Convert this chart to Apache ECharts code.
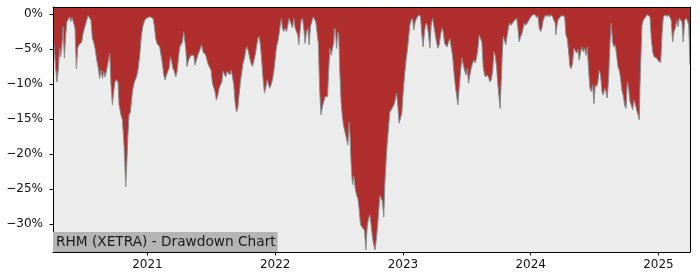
<!DOCTYPE html>
<html>
<head>
<meta charset="utf-8">
<script src="https://cdn.jsdelivr.net/npm/echarts@6/dist/echarts.min.js"></script>
<style>
  html, body { margin: 0; padding: 0; background: #ffffff; }
  #chart { width: 700px; height: 280px; }
</style>
</head>
<body>
<div id="chart"></div>
<script>
// Dates as decimal years (e.g. 2021.5 = mid-2021), drawdown in percent
var dates2020 = [2020.261,2020.266,2020.282,2020.292,2020.303,2020.313,2020.321,2020.331,2020.339,2020.350,
  2020.360,2020.370,2020.381,2020.392,2020.399,2020.410,2020.423,2020.433,2020.444,2020.454,
  2020.464,2020.475,2020.486,2020.496,2020.507,2020.522,2020.535,2020.546,2020.558,2020.569,
  2020.579,2020.590,2020.601,2020.616,2020.626,2020.637,2020.648,2020.658,2020.668,2020.679,
  2020.691,2020.705,2020.715,2020.726,2020.736,2020.746,2020.757,2020.770,2020.778,2020.793,
  2020.804,2020.814,2020.822,2020.830,2020.838,2020.846,2020.856,2020.867,2020.877,2020.887,
  2020.898,2020.914,2020.926,2020.940,2020.953,2020.966,2020.979,2020.992];
var dd2020 = [-4.0,-3.7,-7.8,-9.7,-7.8,-4.9,-6.1,-4.4,-1.8,-6.3,
  -3.0,-1.1,-0.9,-0.4,-1.1,-0.5,-0.5,-2.0,-7.8,-4.9,
  -4.4,-4.4,-4.0,-2.8,-2.0,-1.1,-0.2,-0.2,-0.9,-3.5,
  -4.0,-4.9,-6.3,-7.8,-9.2,-8.0,-9.2,-8.2,-9.0,-8.2,
  -8.2,-5.6,-10.1,-13.0,-11.1,-9.7,-9.4,-9.7,-13.0,-14.4,
  -15.1,-17.8,-20.6,-24.7,-21.6,-17.8,-14.4,-14.0,-12.0,-10.6,
  -9.7,-9.0,-8.0,-5.9,-3.0,-1.6,-0.9,-0.6];

var dates2021 = [2021.005,2021.018,2021.031,2021.044,2021.055,2021.065,2021.075,2021.086,2021.096,2021.107,
  2021.117,2021.128,2021.138,2021.149,2021.159,2021.169,2021.180,2021.190,2021.200,2021.211,
  2021.222,2021.232,2021.243,2021.253,2021.263,2021.274,2021.284,2021.292,2021.300,2021.310,
  2021.321,2021.331,2021.341,2021.352,2021.363,2021.373,2021.384,2021.394,2021.404,2021.415,
  2021.425,2021.435,2021.446,2021.457,2021.467,2021.478,2021.488,2021.498,2021.509,2021.519,
  2021.529,2021.540,2021.551,2021.561,2021.572,2021.582,2021.592,2021.603,2021.613,2021.623,
  2021.634,2021.645,2021.655,2021.666,2021.676,2021.686,2021.697,2021.707,2021.717,2021.728,
  2021.739,2021.749,2021.760,2021.770,2021.780,2021.791,2021.801,2021.811,2021.822,2021.832,
  2021.843,2021.854,2021.864,2021.874,2021.885,2021.895,2021.905,2021.916,2021.926,2021.937,
  2021.948,2021.958,2021.968,2021.979,2021.989,2021.999];
var dd2021 = [-0.4,-0.4,-0.2,-0.6,-1.8,-3.5,-4.2,-4.0,-4.7,-5.9,
  -7.0,-8.7,-9.4,-9.4,-8.2,-7.8,-6.1,-6.8,-7.8,-8.2,
  -9.0,-8.2,-6.3,-4.7,-4.9,-4.0,-2.5,-2.5,-4.9,-7.5,
  -6.6,-6.8,-5.9,-6.1,-5.9,-7.3,-7.3,-5.9,-5.9,-4.9,
  -4.4,-5.4,-5.4,-5.9,-6.6,-7.3,-7.5,-8.0,-9.9,-10.1,
  -11.1,-12.3,-11.6,-10.6,-10.1,-9.7,-8.2,-8.0,-9.0,-8.2,
  -8.2,-8.7,-8.0,-9.0,-10.1,-12.5,-14.0,-13.5,-11.6,-9.7,
  -8.2,-7.0,-6.3,-5.1,-4.7,-5.4,-6.3,-7.0,-7.5,-6.8,
  -5.9,-4.7,-3.5,-3.2,-4.4,-6.8,-9.2,-11.3,-10.6,-9.4,
  -10.1,-10.6,-10.1,-9.4,-8.2,-6.6];

var dates2022 = [2022.010,2022.020,2022.031,2022.042,2022.049,2022.057,2022.067,2022.078,2022.089,2022.099,
  2022.109,2022.120,2022.135,2022.146,2022.156,2022.167,2022.177,2022.185,2022.193,2022.203,
  2022.214,2022.224,2022.234,2022.245,2022.255,2022.266,2022.276,2022.287,2022.297,2022.308,
  2022.318,2022.328,2022.339,2022.344,2022.349,2022.359,2022.370,2022.381,2022.391,2022.402,
  2022.410,2022.417,2022.428,2022.438,2022.449,2022.459,2022.464,2022.472,2022.480,2022.490,
  2022.498,2022.506,2022.516,2022.527,2022.537,2022.547,2022.558,2022.569,2022.579,2022.587,
  2022.594,2022.605,2022.616,2022.626,2022.637,2022.647,2022.657,2022.668,2022.678,2022.688,
  2022.699,2022.710,2022.720,2022.731,2022.741,2022.751,2022.762,2022.772,2022.782,2022.793,
  2022.806,2022.819,2022.829,2022.840,2022.850,2022.858,2022.866,2022.876,2022.887,2022.897,
  2022.908,2022.919,2022.929,2022.939,2022.950,2022.960,2022.970,2022.981,2022.991];
var dd2022 = [-4.7,-4.0,-2.8,-1.3,-0.6,-2.0,-2.5,-2.0,-2.5,-1.6,
  -0.6,-0.4,-2.0,-0.6,-2.0,-1.8,-3.0,-4.4,-2.8,-0.9,
  -0.6,-2.0,-4.2,-2.5,-2.0,-4.4,-1.8,-1.1,-0.4,-0.6,
  -1.1,-1.3,-4.4,-8.2,-11.1,-14.4,-13.2,-13.0,-11.8,-11.6,
  -11.8,-8.7,-4.9,-5.9,-4.9,-4.0,-2.0,-2.3,-4.9,-2.5,
  -3.0,-8.2,-12.5,-14.9,-16.1,-16.3,-17.8,-18.7,-15.4,-17.8,
  -21.1,-24.4,-23.2,-24.9,-25.9,-26.3,-27.8,-30.1,-30.4,-30.6,
  -30.9,-33.7,-30.4,-29.2,-28.7,-30.1,-32.0,-33.0,-33.7,-32.0,
  -29.2,-25.9,-26.1,-26.8,-29.0,-24.4,-21.6,-18.7,-16.3,-14.0,
  -13.7,-13.5,-13.0,-12.3,-11.3,-13.0,-15.6,-15.4,-14.2];

var dates2023 = [2023.002,2023.013,2023.023,2023.033,2023.044,2023.054,2023.064,2023.075,2023.085,2023.096,
  2023.107,2023.117,2023.127,2023.138,2023.148,2023.158,2023.169,2023.179,2023.190,2023.201,
  2023.211,2023.221,2023.232,2023.242,2023.252,2023.263,2023.273,2023.284,2023.294,2023.305,
  2023.315,2023.326,2023.336,2023.346,2023.357,2023.367,2023.377,2023.388,2023.399,2023.409,
  2023.420,2023.430,2023.440,2023.451,2023.461,2023.471,2023.482,2023.493,2023.503,2023.514,
  2023.524,2023.534,2023.545,2023.555,2023.565,2023.576,2023.587,2023.597,2023.608,2023.618,
  2023.628,2023.639,2023.649,2023.659,2023.670,2023.681,2023.691,2023.702,2023.712,2023.722,
  2023.733,2023.743,2023.753,2023.761,2023.769,2023.777,2023.785,2023.796,2023.806,2023.816,
  2023.827,2023.837,2023.847,2023.858,2023.869,2023.879,2023.890,2023.900,2023.910,2023.921,
  2023.931,2023.941,2023.952,2023.962,2023.973,2023.984,2023.994];
var dd2023 = [-11.1,-8.7,-6.8,-5.4,-3.5,-1.6,-0.9,-0.6,-2.3,-1.1,
  -0.6,-0.4,-0.1,-0.4,-3.0,-4.7,-2.5,-1.3,-1.6,-3.0,
  -4.9,-1.6,-0.6,-0.4,-2.8,-4.0,-4.9,-4.4,-3.0,-2.0,
  -2.5,-4.2,-4.0,-4.7,-4.0,-3.5,-3.7,-5.9,-8.2,-10.1,
  -11.6,-13.0,-10.6,-8.2,-6.3,-6.3,-8.0,-8.7,-7.8,-9.9,
  -8.7,-7.8,-7.0,-6.6,-7.0,-6.3,-4.9,-3.0,-2.8,-4.0,
  -7.5,-8.7,-9.0,-8.7,-9.0,-9.7,-9.4,-8.2,-5.4,-5.9,
  -7.5,-10.1,-12.0,-13.5,-9.7,-5.9,-3.2,-3.0,-4.4,-3.0,
  -1.8,-1.3,-1.6,-1.3,-1.0,-1.1,-0.6,-2.0,-4.0,-3.2,
  -2.8,-2.0,-1.3,-1.6,-1.3,-1.1,-0.6];

var dates2024 = [2024.004,2024.015,2024.025,2024.035,2024.046,2024.056,2024.067,2024.078,2024.088,2024.098,
  2024.109,2024.119,2024.129,2024.140,2024.150,2024.161,2024.172,2024.182,2024.192,2024.197,
  2024.203,2024.213,2024.223,2024.234,2024.244,2024.255,2024.266,2024.276,2024.286,2024.297,
  2024.307,2024.317,2024.328,2024.338,2024.349,2024.360,2024.370,2024.380,2024.391,2024.401,
  2024.411,2024.422,2024.432,2024.443,2024.454,2024.464,2024.474,2024.485,2024.495,2024.505,
  2024.516,2024.526,2024.537,2024.547,2024.558,2024.568,2024.579,2024.589,2024.599,2024.610,
  2024.620,2024.630,2024.641,2024.652,2024.662,2024.673,2024.683,2024.693,2024.704,2024.714,
  2024.724,2024.735,2024.746,2024.756,2024.767,2024.777,2024.787,2024.798,2024.808,2024.818,
  2024.829,2024.840,2024.850,2024.855,2024.863,2024.871,2024.881,2024.892,2024.902,2024.912,
  2024.923,2024.934,2024.944,2024.955,2024.965,2024.975,2024.986,2024.996];
var dd2024 = [-0.4,-0.1,-0.1,-0.1,-0.5,-0.2,-2.0,-2.5,-2.0,-0.9,
  -0.4,-0.1,-0.4,-0.1,-0.4,-0.1,-0.4,-0.9,-1.3,-3.0,
  -2.0,-0.9,-0.6,-0.4,-0.2,-0.1,-0.4,-3.0,-3.5,-5.4,
  -7.5,-7.8,-7.0,-4.9,-4.7,-5.6,-5.1,-6.6,-5.4,-4.7,
  -5.4,-4.9,-5.9,-4.7,-8.2,-10.6,-11.1,-10.1,-12.8,-10.1,
  -10.4,-9.7,-8.0,-8.7,-11.1,-11.6,-10.6,-11.1,-12.0,-9.2,
  -4.4,-1.3,-4.0,-4.7,-4.4,-5.9,-7.5,-8.0,-9.2,-10.9,
  -11.6,-13.0,-13.5,-9.7,-10.6,-12.5,-13.0,-13.7,-12.3,-12.8,
  -13.7,-14.4,-15.1,-10.6,-5.9,-1.6,-0.9,-0.6,-0.4,-0.1,
  -0.1,-0.4,-3.5,-5.4,-6.1,-6.1,-6.3,-6.6];

var dates2025 = [2025.006,2025.017,2025.028,2025.038,2025.049,2025.059,2025.069,2025.080,2025.090,2025.100,
  2025.111,2025.122,2025.132,2025.143,2025.153,2025.163,2025.174,2025.184,2025.194,2025.205,
  2025.216,2025.226,2025.237,2025.247];
var dd2025 = [-6.8,-7.0,-2.8,-0.4,-0.4,-0.1,-0.4,-0.1,-0.2,-0.9,
  -4.0,-2.5,-2.0,-0.9,-1.8,-0.6,-0.4,-1.1,-4.0,-0.9,
  -0.6,-0.9,-1.6,-7.3];

var yearTicks = [2021, 2022, 2023, 2024, 2025];
var pctTicks = [-30, -25, -20, -15, -10, -5, 0];
var chartTitle = 'RHM (XETRA) - Drawdown Chart';

var dates = [].concat(dates2020, dates2021, dates2022, dates2023, dates2024, dates2025);
var drawdown = [].concat(dd2020, dd2021, dd2022, dd2023, dd2024, dd2025);
var seriesData = dates.map(function (d, i) { return [d, drawdown[i]]; });

var FONT = 'DejaVu Sans';
var chart = echarts.init(document.getElementById('chart'), null, { renderer: 'canvas' });

var xMin = dates[0], xMax = dates[dates.length - 1];

chart.setOption({
  animation: false,
  backgroundColor: '#ffffff',
  title: {
    text: chartTitle,
    left: 53,
    bottom: 28,
    backgroundColor: '#B4B4B4',
    padding: [2, 2, 2, 3],
    itemGap: 0,
    textStyle: { fontFamily: FONT, fontSize: 13.7, fontWeight: 'normal', color: '#1a1a1a', lineHeight: 16 },
    z: 10
  },
  grid: {
    left: 53, right: 10, top: 7, bottom: 28,
    show: true, backgroundColor: '#ECECEC', borderWidth: 0
  },
  xAxis: [{
    type: 'value', min: xMin, max: xMax, position: 'bottom', z: 5,
    axisLine: { show: true, onZero: false, lineStyle: { color: '#000', width: 1 } },
    axisTick: { show: true, length: 3.5, customValues: yearTicks, lineStyle: { color: '#000' } },
    axisLabel: {
      customValues: yearTicks, margin: 7,
      fontFamily: FONT, fontSize: 12, color: '#111',
      formatter: function (v) { return String(Math.round(v)); }
    },
    splitLine: { show: false }
  }, {
    type: 'value', min: xMin, max: xMax, position: 'top', z: 5,
    axisLine: { show: true, onZero: false, lineStyle: { color: '#000', width: 1 } },
    axisTick: { show: false }, axisLabel: { show: false }, splitLine: { show: false }
  }],
  yAxis: [{
    type: 'value', min: -34, max: 1, position: 'left', z: 5,
    axisLine: { show: true, onZero: false, lineStyle: { color: '#000', width: 1 } },
    axisTick: { show: true, length: 3.5, customValues: pctTicks, lineStyle: { color: '#000' } },
    axisLabel: {
      customValues: pctTicks, margin: 10,
      fontFamily: FONT, fontSize: 12, color: '#111',
      formatter: function (v) {
        var r = Math.round(v);
        return (r < 0 ? '\u2212' : '') + Math.abs(r) + '%';
      }
    },
    splitLine: { show: false }
  }, {
    type: 'value', min: -34, max: 1, position: 'right', z: 5,
    axisLine: { show: true, onZero: false, lineStyle: { color: '#000', width: 1 } },
    axisTick: { show: false }, axisLabel: { show: false }, splitLine: { show: false }
  }],
  series: [{
    type: 'line',
    xAxisIndex: 0, yAxisIndex: 0,
    data: seriesData,
    showSymbol: false,
    symbol: 'none',
    z: 2,
    lineStyle: { color: '#8a8a8a', width: 1 },
    areaStyle: { color: '#B02E2E', opacity: 1, origin: 'end' }
  }]
});
</script>
</body>
</html>
